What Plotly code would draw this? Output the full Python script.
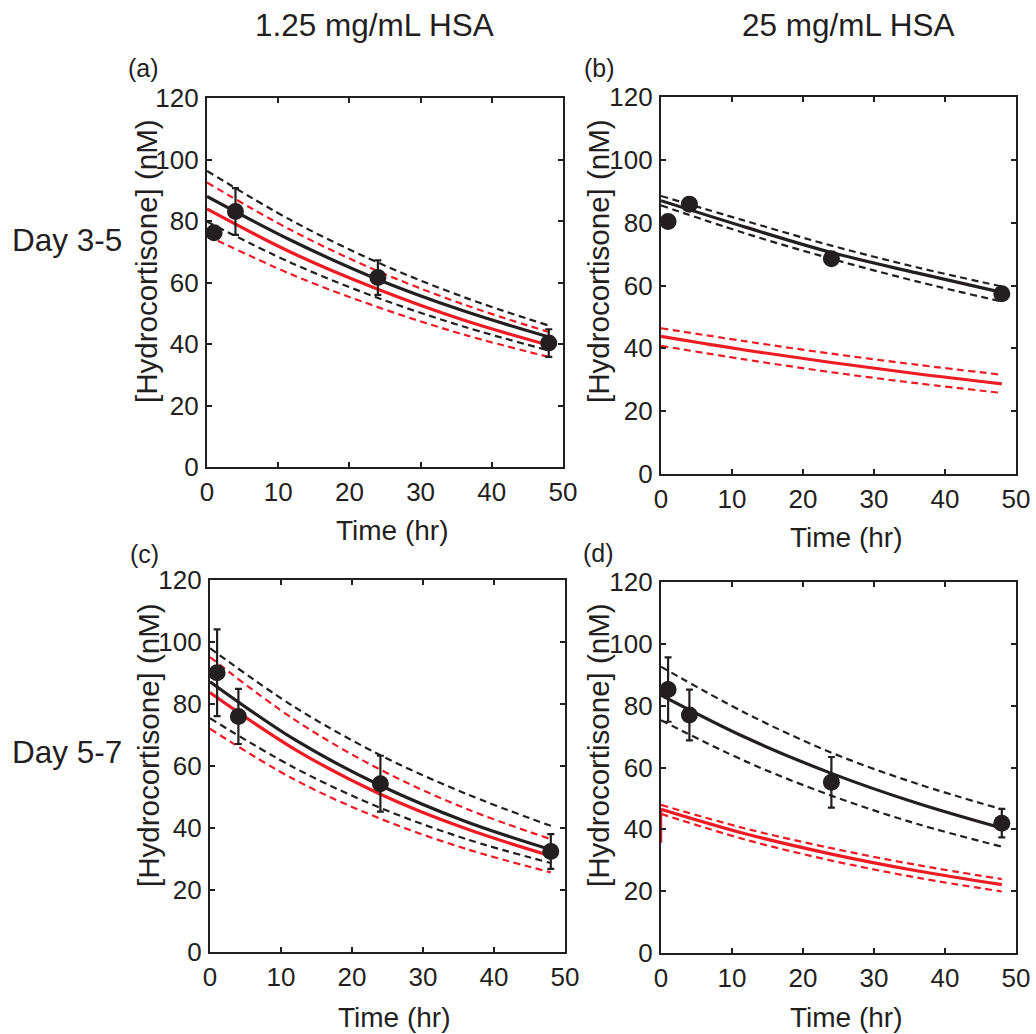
import plotly.graph_objects as go

# Sampling times
T_FIT = [0, 12, 24, 36, 48]
T_OBS = [1, 4, 24, 48]

# (a) Day 3-5, 1.25 mg/mL HSA
a_obs = [76.2, 83.1, 61.6, 40.3]
a_err = [1.0, 7.6, 5.6, 4.5]
a_black = [88.0, 73.5, 61.0, 50.8, 42.3]
a_black_hi = [96.3, 80.0, 66.5, 55.3, 46.0]
a_black_lo = [79.8, 66.2, 55.0, 45.7, 37.9]
a_red = [83.9, 69.6, 57.8, 47.8, 39.6]
a_red_hi = [92.5, 76.8, 63.7, 52.9, 43.9]
a_red_lo = [75.3, 62.5, 52.0, 43.1, 35.8]

# (b) Day 3-5, 25 mg/mL HSA
b_obs = [80.4, 85.9, 68.5, 57.4]
b_err = [1.0, 1.0, 1.0, 1.0]
b_black = [87.0, 78.5, 70.5, 64.0, 57.8]
b_black_hi = [88.5, 80.5, 72.7, 65.8, 59.7]
b_black_lo = [85.5, 76.5, 68.5, 61.3, 54.9]
b_red = [43.8, 39.4, 35.5, 31.9, 28.7]
b_red_hi = [46.4, 42.2, 38.3, 34.8, 31.6]
b_red_lo = [40.8, 36.4, 32.4, 28.9, 25.8]

# (c) Day 5-7, 1.25 mg/mL HSA
c_obs = [90.1, 76.0, 54.3, 32.4]
c_err = [14.0, 8.9, 9.0, 5.6]
c_black = [87.2, 68.4, 53.7, 42.1, 33.0]
c_black_hi = [98.0, 78.9, 63.5, 51.1, 40.7]
c_black_lo = [75.4, 59.3, 46.5, 36.5, 28.7]
c_red = [83.7, 65.3, 50.9, 39.8, 31.0]
c_red_hi = [95.1, 74.8, 58.8, 46.3, 36.4]
c_red_lo = [72.0, 55.5, 43.0, 33.3, 25.7]

# (d) Day 5-7, 25 mg/mL HSA
d_obs = [85.2, 77.0, 55.2, 42.0]
d_err = [10.4, 8.2, 8.2, 4.6]
d_black = [83.4, 69.6, 58.1, 48.5, 40.4]
d_black_hi = [92.6, 77.5, 64.8, 54.8, 46.5]
d_black_lo = [75.3, 61.9, 50.9, 41.8, 34.4]
d_red = [46.5, 38.5, 32.0, 26.6, 22.1]
d_red_hi = [47.9, 40.2, 33.9, 28.5, 23.9]
d_red_lo = [45.0, 36.6, 29.9, 24.4, 19.9]
d_red_t0 = [0, 0]
d_red_start = [35.7, 46.5]

X_TICKS = [0, 10, 20, 30, 40, 50]
Y_TICKS = [0, 20, 40, 60, 80, 100, 120]

BLACK = "#231f20"
RED = "#ed1c24"
FONT = "Liberation Sans, Arial, sans-serif"

panels = [
    dict(key="a", obs=a_obs, err=a_err, k=a_black, khi=a_black_hi, klo=a_black_lo,
         r=a_red, rhi=a_red_hi, rlo=a_red_lo,
         xd=[207 / 1036, 563 / 1036], yd=[1 - 467 / 1034, 1 - 98 / 1034]),
    dict(key="b", obs=b_obs, err=b_err, k=b_black, khi=b_black_hi, klo=b_black_lo,
         r=b_red, rhi=b_red_hi, rlo=b_red_lo,
         xd=[661 / 1036, 1016 / 1036], yd=[1 - 474 / 1034, 1 - 97 / 1034]),
    dict(key="c", obs=c_obs, err=c_err, k=c_black, khi=c_black_hi, klo=c_black_lo,
         r=c_red, rhi=c_red_hi, rlo=c_red_lo,
         xd=[210 / 1036, 565 / 1036], yd=[1 - 952 / 1034, 1 - 580 / 1034]),
    dict(key="d", obs=d_obs, err=d_err, k=d_black, khi=d_black_hi, klo=d_black_lo,
         r=d_red, rhi=d_red_hi, rlo=d_red_lo,
         xd=[661 / 1036, 1016 / 1036], yd=[1 - 953 / 1034, 1 - 582 / 1034]),
]

fig = go.Figure()
layout = {}

for i, p in enumerate(panels, start=1):
    xa = "x" if i == 1 else f"x{i}"
    ya = "y" if i == 1 else f"y{i}"

    def line(vals, color, dashed):
        fig.add_trace(go.Scatter(
            x=T_FIT, y=vals, mode="lines", xaxis=xa, yaxis=ya,
            line=dict(color=color, width=2.2 if dashed else 3.2,
                      dash="7px,4.5px" if dashed else "solid", shape="spline"),
            showlegend=False, hoverinfo="skip"))

    for vals, color in [(p["khi"], BLACK), (p["klo"], BLACK),
                        (p["rhi"], RED), (p["rlo"], RED)]:
        line(vals, color, True)
    line(p["k"], BLACK, False)
    line(p["r"], RED, False)

    if p["key"] == "d":
        fig.add_trace(go.Scatter(
            x=d_red_t0, y=d_red_start, mode="lines", xaxis=xa, yaxis=ya,
            line=dict(color=RED, width=2.5), showlegend=False, hoverinfo="skip"))

    fig.add_trace(go.Scatter(
        x=T_OBS, y=p["obs"], mode="markers", xaxis=xa, yaxis=ya,
        marker=dict(color=BLACK, size=17, line=dict(width=0)),
        error_y=dict(type="data", array=p["err"], color=BLACK, thickness=2.2, width=3.5),
        showlegend=False))

    axis_common = dict(
        showline=True, linewidth=2.2, linecolor=BLACK, mirror="ticks",
        ticks="inside", ticklen=5, tickwidth=1.6, tickcolor=BLACK,
        showgrid=False, zeroline=False, automargin=False,
        tickfont=dict(family=FONT, size=26, color=BLACK),
    )
    layout[f"xaxis{'' if i == 1 else i}"] = dict(
        axis_common, domain=p["xd"], range=[0, 50], tickvals=X_TICKS,
        anchor=ya, ticklabelstandoff=1)
    layout[f"yaxis{'' if i == 1 else i}"] = dict(
        axis_common, domain=p["yd"], range=[0, 120], tickvals=Y_TICKS,
        anchor=xa, ticklabelstandoff=1)

annotations = []


def text(s, x, y, size, angle=0):
    annotations.append(dict(
        text=s, x=x / 1036, y=1 - y / 1034, xref="paper", yref="paper",
        xanchor="center", yanchor="middle", showarrow=False, textangle=angle,
        font=dict(family=FONT, size=size, color=BLACK)))


text("1.25 mg/mL HSA", 374, 25, 31.5)
text("25 mg/mL HSA", 848, 25, 31.5)
text("Day 3-5", 67, 240, 31.5)
text("Day 5-7", 67, 752, 31.5)
text("(a)", 143, 68, 25)
text("(b)", 599, 68, 25)
text("(c)", 144, 554, 25)
text("(d)", 598, 553, 25)
for cx, cy in [(392, 530), (846, 537), (394, 1017), (846, 1017)]:
    text("Time (hr)", cx, cy, 28)
for cx, cy in [(146, 261), (598, 261), (148, 745), (598, 745)]:
    text("[Hydrocortisone] (nM)", cx, cy, 29.5, angle=-90)

fig.update_layout(
    width=1036, height=1034, margin=dict(l=0, r=0, t=0, b=0),
    paper_bgcolor="white", plot_bgcolor="white",
    annotations=annotations, **layout)

fig.write_html("out.html")
